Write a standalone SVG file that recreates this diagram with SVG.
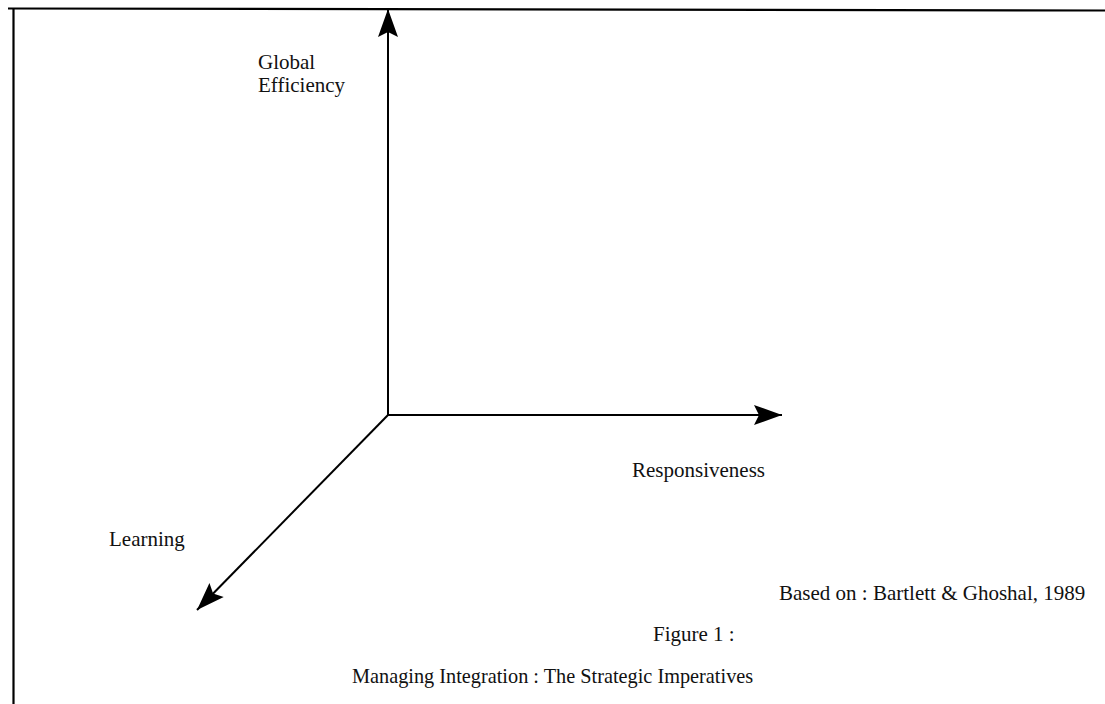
<svg xmlns="http://www.w3.org/2000/svg" width="1105" height="704" viewBox="0 0 1105 704">
<defs>
<style>
.ln{stroke:#000;stroke-width:2;fill:none}
.frame{stroke:#000;stroke-width:2.2;fill:none}
.t{font-family:"Liberation Serif","Times New Roman",serif;font-size:21px;fill:#111}
</style>
<marker id="ah" markerUnits="userSpaceOnUse" markerWidth="32" markerHeight="24" viewBox="-30 -12 32 24" refX="0" refY="0" orient="auto">
<path d="M0,0 L-28,-10 L-23,0 L-28,10 Z" fill="#000"/>
</marker>
</defs>
<rect width="1105" height="704" fill="#fff"/>
<g id="frame">
<path class="frame" d="M8,8.5 L1105,10.5"/>
<path class="frame" d="M13.5,8 L13.5,704"/>
</g>
<g id="connectors">
<path class="ln" d="M388,415 L388,9" marker-end="url(#ah)"/>
<path class="ln" d="M388,415 L782,415" marker-end="url(#ah)"/>
<path class="ln" d="M388,415 L197,610" marker-end="url(#ah)"/>
</g>
<g id="global-efficiency">
<text class="t" x="258" y="68.5">Global</text>
<text class="t" x="258" y="92">Efficiency</text>
</g>
<g id="responsiveness">
<text class="t" x="632" y="477">Responsiveness</text>
</g>
<g id="learning">
<text class="t" x="109" y="546">Learning</text>
</g>
<g id="caption">
<text class="t" x="779" y="600">Based on : Bartlett &amp; Ghoshal, 1989</text>
<text class="t" x="653" y="641">Figure 1 :</text>
<text class="t" x="352" y="683" style="font-size:20.3px">Managing Integration : The Strategic Imperatives</text>
</g>
</svg>
